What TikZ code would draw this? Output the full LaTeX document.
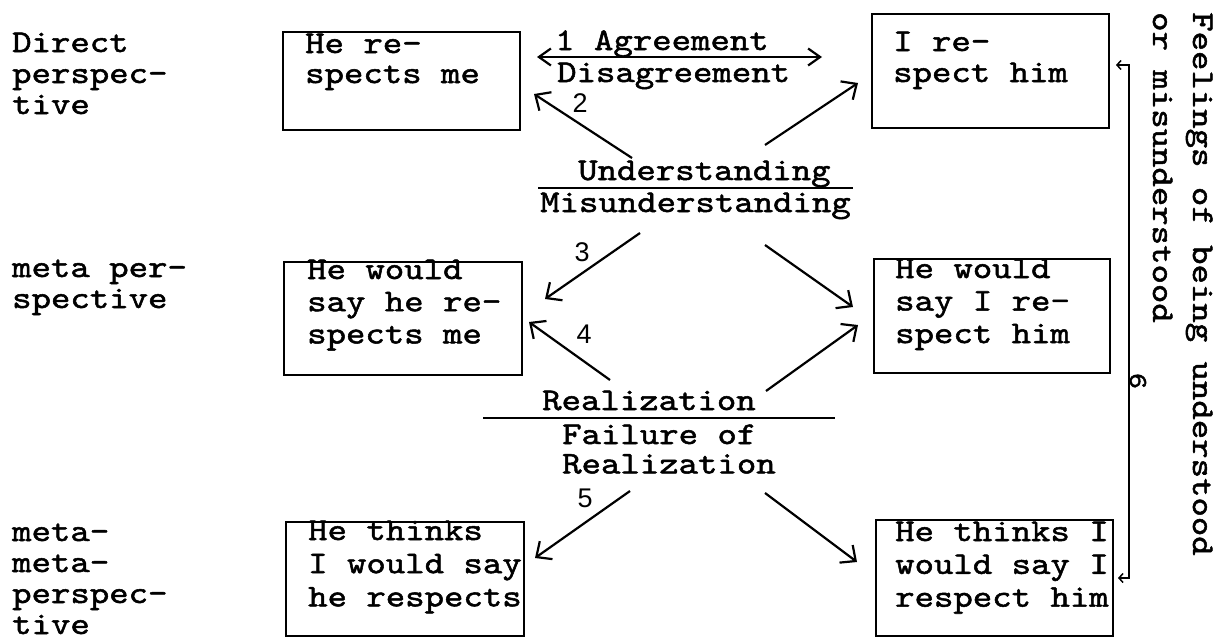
\documentclass[tikz,border=0pt]{standalone}
\usepackage{fontspec}
\newfontfamily\tw{lmmono10-regular.otf}[FakeStretch=1.17, FakeBold=1.6]
\newfontfamily\nf{Liberation Sans}
\usetikzlibrary{arrows.meta}
\newcommand\mlines[2]{{\renewcommand\arraystretch{#1}\begin{tabular}[t]{@{}l@{}}#2\end{tabular}}}
\tikzset{
  txt/.style={font={\tw\fontsize{31.6pt}{31pt}\selectfont}, inner sep=0pt, anchor=base west},
  num/.style={font={\nf\fontsize{27pt}{29pt}\selectfont}, inner sep=0pt, anchor=center},
  box/.style={draw, line width=2.4pt, inner sep=0pt, anchor=north west},
  arr/.style={line width=2.2pt, -{Straight Barb[length=12pt,width=22pt]}},
  darr/.style={line width=2.2pt, {Straight Barb[length=12pt,width=17pt]}-{Straight Barb[length=12pt,width=17pt]}},
  rulel/.style={line width=2.2pt},
  thin arr/.style={line width=1.5pt, {Straight Barb[length=4pt,width=9pt]}-{Straight Barb[length=4pt,width=9pt]}}
}
\begin{document}
\begin{tikzpicture}[x=1pt,y=-1pt]
\useasboundingbox (0,0) rectangle (1222,637);
% row labels
\node[txt] (l1) at (12,52) {\mlines{1}{Direct\\perspec-\\tive}};
\node[txt] (l2) at (12,277) {\mlines{1}{meta per-\\spective}};
\node[txt] (l3) at (12,541) {\mlines{1}{meta-\\meta-\\perspec-\\tive}};
% boxes
\node[box, minimum width=237pt, minimum height=98pt] (b1) at (282,31) {};
\node[box, minimum width=237pt, minimum height=114pt] (b2) at (871,13) {};
\node[box, minimum width=238pt, minimum height=113pt] (b3) at (283,261) {};
\node[box, minimum width=236pt, minimum height=114pt] (b4) at (873,258) {};
\node[box, minimum width=238pt, minimum height=114pt] (b5) at (285,521) {};
\node[box, minimum width=237pt, minimum height=116pt] (b6) at (875,519) {};
% box texts
\node[txt] (t1) at (305,53) {\mlines{0.97}{He re-\\spects me}};
\node[txt] (t2) at (893,51) {\mlines{1}{I re-\\spect him}};
\node[txt] (t3) at (307,279) {\mlines{1.04}{He would\\say he re-\\spects me}};
\node[txt] (t4) at (895,278) {\mlines{1.05}{He would\\say I re-\\spect him}};
\node[txt] (t5) at (308,540) {\mlines{1.07}{He thinks\\I would say\\he respects}};
\node[txt] (t6) at (895,541) {\mlines{1.06}{He thinks I\\would say I\\respect him}};
% middle labels
\node[txt] (agr) at (555,50) {1 Agreement};
\node[txt] (dis) at (557,82) {Disagreement};
\node[txt] (und) at (578,180) {Understanding};
\node[txt] (mis) at (540,212) {Misunderstanding};
\node[txt] (rea) at (542,410) {Realization};
\node[txt] (fai) at (562,444) {\mlines{0.95}{Failure of\\Realization}};
\node[num] (n2) at (580,103) {2};
\node[num] (n3) at (582,252) {3};
\node[num] (n4) at (584,334) {4};
\node[num] (n5) at (585,498) {5};
% rules
\coordinate (r1a) at (538,188); \coordinate (r1b) at (853,188);
\coordinate (r2a) at (483,418); \coordinate (r2b) at (835,418);
\draw[rulel] (r1a) -- (r1b);
\draw[rulel] (r2a) -- (r2b);
% arrow end points
\coordinate (a1l) at (537,57); \coordinate (a1r) at (822,57);
\coordinate (u1) at (632,158); \coordinate (p2) at (534,94);
\coordinate (u2) at (765,145); \coordinate (q2) at (858,83);
\coordinate (m1) at (640,233); \coordinate (p3) at (545,299);
\coordinate (m2) at (765,245); \coordinate (q3) at (853,307);
\coordinate (v1) at (610,380); \coordinate (p4) at (529,322);
\coordinate (v2) at (766,391); \coordinate (q4) at (858,325);
\coordinate (w1) at (630,491); \coordinate (p5) at (535,558);
\coordinate (w2) at (765,493); \coordinate (q5) at (857,562);
\draw[darr] (a1l) -- (a1r);
\draw[arr] (u1) -- (p2);
\draw[arr] (u2) -- (q2);
\draw[arr] (m1) -- (p3);
\draw[arr] (m2) -- (q3);
\draw[arr] (v1) -- (p4);
\draw[arr] (v2) -- (q4);
\draw[arr] (w1) -- (p5);
\draw[arr] (w2) -- (q5);
% feelings connector
\coordinate (f1) at (1116,65); \coordinate (f2) at (1118,578);
\draw[thin arr] (f1) -- ++(13,0) |- (f2);
\node[txt, rotate=-90, font={\tw\fontsize{26pt}{28pt}\selectfont}, anchor=center] (n6) at (1138,381) {6};
\node[txt, rotate=-90] (feel) at (1193,12) {\mlines{1.29}{Feelings of being understood\\or misunderstood}};
\end{tikzpicture}
\end{document}
